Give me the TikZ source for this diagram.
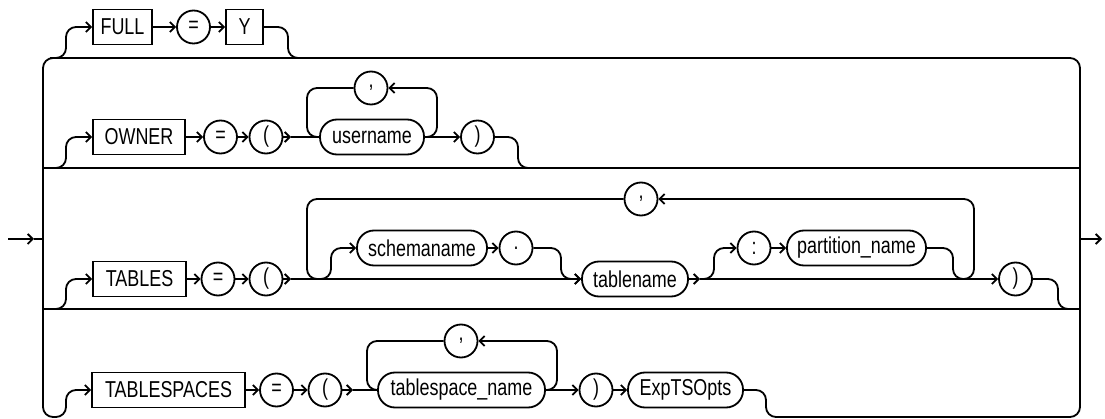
\documentclass[tikz,border=0pt]{standalone}
\usepackage{fontspec}
\setmainfont{Liberation Sans}[FakeStretch=0.78]
\usetikzlibrary{arrows.meta}
\begin{document}
\begin{tikzpicture}[x=1pt,y=-1pt, line width=1.8pt,
  every node/.style={font=\fontsize{23}{27}\selectfont, inner sep=0pt},
  ar/.style={-{Straight Barb[length=5pt,width=10pt]}},
  kw/.style={draw, rectangle, minimum height=35pt},
  sym/.style={draw, circle, minimum size=33pt},
  nt/.style={draw, rectangle, rounded corners=17pt, minimum height=35pt},
  lk/.style={rounded corners=10pt}]
\useasboundingbox (0,0) rectangle (1105,419);

% FULL row
\node[kw, minimum width=59pt] (full) at (122.5,27) {FULL};
\node[sym] (eqa) at (193.5,27) {=};
\node[kw, minimum width=37pt] (yy) at (244.5,27) {Y};

% OWNER row
\node[kw, minimum width=92pt] (owner) at (139,137) {OWNER};
\node[sym] (eqb) at (220.5,137) {=};
\node[sym] (lpb) at (266,137) {(};
\node[nt, minimum width=104pt] (user) at (372,137) {username};
\node[sym] (comb) at (371,88) {,};
\node[sym] (rpb) at (477.5,137) {)};

% TABLES row
\node[kw, minimum width=93pt] (tables) at (139.5,279) {TABLES};
\node[sym] (eqc) at (218,279) {=};
\node[sym] (lpc) at (266,279) {(};
\node[nt, minimum width=130pt] (schema) at (422,248) {schemaname};
\node[sym] (dot) at (516,248) {.};
\node[nt, minimum width=106pt] (table) at (635,279) {tablename};
\node[sym] (colon) at (754,248) {:};
\node[nt, minimum width=139pt] (part) at (856.5,248) {partition\_name};
\node[sym] (comc) at (641,199) {,};
\node[sym] (rpc) at (1015.5,279) {)};

% TABLESPACES row
\node[kw, minimum width=153pt] (ts) at (168.5,390) {TABLESPACES};
\node[sym] (eqd) at (276.5,390) {=};
\node[sym] (lpd) at (325,390) {(};
\node[nt, minimum width=167pt] (tsn) at (461.5,390) {tablespace\_name};
\node[sym] (comd) at (461,341) {,};
\node[sym] (rpd) at (596,390) {)};
\node[nt, minimum width=115pt] (exp) at (685.5,390) {ExpTSOpts};

% entry / exit
\coordinate (start) at (8,239);
\coordinate (tipin) at (34,239);
\coordinate (lj) at (43,239);
\coordinate (rj) at (1080,239);
\coordinate (stop) at (1102,239);
\draw[ar] (start) -- (tipin);
\draw (tipin) -- (lj);
\draw[ar] (rj) -- (stop);

% frame
\draw[lk,ar] (exp.east) -- (766,390) -- (766,417) -- (1080,417) -- (1080,58) -- (43,58) -- (43,417) -- (66,417) -- (66,390) -- (ts.west);
\draw (43,168) -- (1080,168);
\draw (43,309) -- (1080,309);

% FULL branch
\draw[lk,ar] (50,58) -- (66,58) -- (66,27) -- (full.west);
\draw[ar] (full.east) -- (eqa.west);
\draw[ar] (eqa.east) -- (yy.west);
\draw[lk] (yy.east) -- (288,27) -- (288,58) -- (300,58);

% OWNER branch
\draw[lk,ar] (50,168) -- (66,168) -- (66,137) -- (owner.west);
\draw[ar] (owner.east) -- (eqb.west);
\draw[ar] (eqb.east) -- (lpb.west);
\coordinate (tb) at (291,137);
\draw[ar] (lpb.east) -- (tb);
\draw (tb) -- (user.west);
\draw[lk] (comb.west) -- (307,88) -- (307,137) -- (user.west);
\draw[lk,ar] (user.east) -- (437,137) -- (437,88) -- (comb.east);
\draw[ar] (user.east) -- (rpb.west);
\draw[lk] (rpb.east) -- (518,137) -- (518,168) -- (530,168);

% TABLES branch
\draw[lk,ar] (50,309) -- (66,309) -- (66,279) -- (tables.west);
\draw[ar] (tables.east) -- (eqc.west);
\draw[ar] (eqc.east) -- (lpc.west);
\coordinate (tc) at (291,279);
\draw[ar] (lpc.east) -- (tc);
\draw[ar] (tc) -- (table.west);
\draw[lk] (comc.west) -- (307,199) -- (307,279) -- (320,279);
\draw[lk,ar] (312,279) -- (331,279) -- (331,248) -- (schema.west);
\draw[ar] (schema.east) -- (dot.west);
\draw[lk,ar] (dot.east) -- (561,248) -- (561,279) -- (table.west);
\coordinate (ta) at (700,279);
\draw[ar] (table.east) -- (ta);
\draw[ar] (ta) -- (rpc.west);
\draw[lk,ar] (ta) -- (714,279) -- (714,248) -- (colon.west);
\draw[ar] (colon.east) -- (part.west);
\draw[lk] (part.east) -- (953,248) -- (953,279) -- (965,279);
\draw[lk,ar] (960,279) -- (974,279) -- (974,199) -- (comc.east);
\draw[lk] (rpc.east) -- (1058,279) -- (1058,309) -- (1070,309);

% TABLESPACES branch
\draw[ar] (ts.east) -- (eqd.west);
\draw[ar] (eqd.east) -- (lpd.west);
\coordinate (td) at (353,390);
\draw[ar] (lpd.east) -- (td);
\draw (td) -- (tsn.west);
\draw[lk] (comd.west) -- (367,341) -- (367,390) -- (tsn.west);
\draw[lk,ar] (tsn.east) -- (557,390) -- (557,341) -- (comd.east);
\draw[ar] (tsn.east) -- (rpd.west);
\draw[ar] (rpd.east) -- (exp.west);
\end{tikzpicture}
\end{document}
